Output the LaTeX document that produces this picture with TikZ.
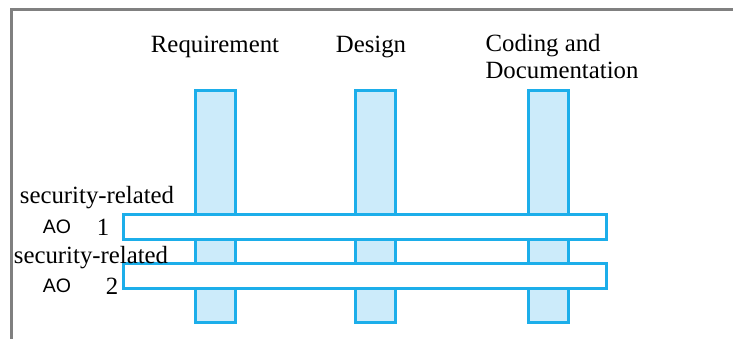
\documentclass[tikz,border=0pt]{standalone}
\usepackage{fontspec}
\setmainfont{Liberation Serif}
\setsansfont{Liberation Sans}
\usetikzlibrary{positioning}
\definecolor{barline}{RGB}{28,174,234}
\definecolor{barfill}{RGB}{204,235,250}
\tikzstyle{phasebar} = [draw=barline, fill=barfill, line width=3pt, minimum width=40pt, minimum height=232pt, inner sep=0pt]
\tikzstyle{aobar} = [draw=barline, fill=white, line width=3pt, minimum width=483pt, minimum height=25pt, inner sep=0pt]
\tikzstyle{lbl} = [inner sep=0pt, font=\fontsize{24.8}{27}\selectfont]
\tikzstyle{aolbl} = [inner sep=0pt, font=\sffamily\fontsize{19.5}{20}\selectfont]

\begin{document}
\begin{tikzpicture}[x=1pt, y=-1pt]

        \useasboundingbox (0,0) rectangle (733,339);

        % Frame
        \draw [gray, line width=3pt] (11.5,339) -- (11.5,9.5) -- (733,9.5);

        % Phase bars
        \node at (215.5,206.5) [phasebar] (req) {};
        \node at (375.5,206.5) [phasebar] (des) {};
        \node at (548.5,206.5) [phasebar] (cod) {};

        % Phase labels
        \node at (215,47) [lbl] (reqtext) {Requirement};
        \node at (371,47) [lbl] (destext) {Design};
        \node at (562,57) [lbl, align=left] (codtext) {Coding and\\Documentation};

        % AO bars
        \node at (365,227) [aobar] (ao1) {};
        \node at (365,276) [aobar] (ao2) {};

        % AO 1 labels
        \node at (97,198) [lbl] (sec1) {security-related};
        \node at (57,227) [aolbl] (aotext1) {AO};
        \node at (103,227) [lbl] (num1) {1};

        % AO 2 labels
        \node at (91,258) [lbl] (sec2) {security-related};
        \node at (57,286) [aolbl] (aotext2) {AO};
        \node at (112,286) [lbl] (num2) {2};

\end{tikzpicture}
\end{document}
